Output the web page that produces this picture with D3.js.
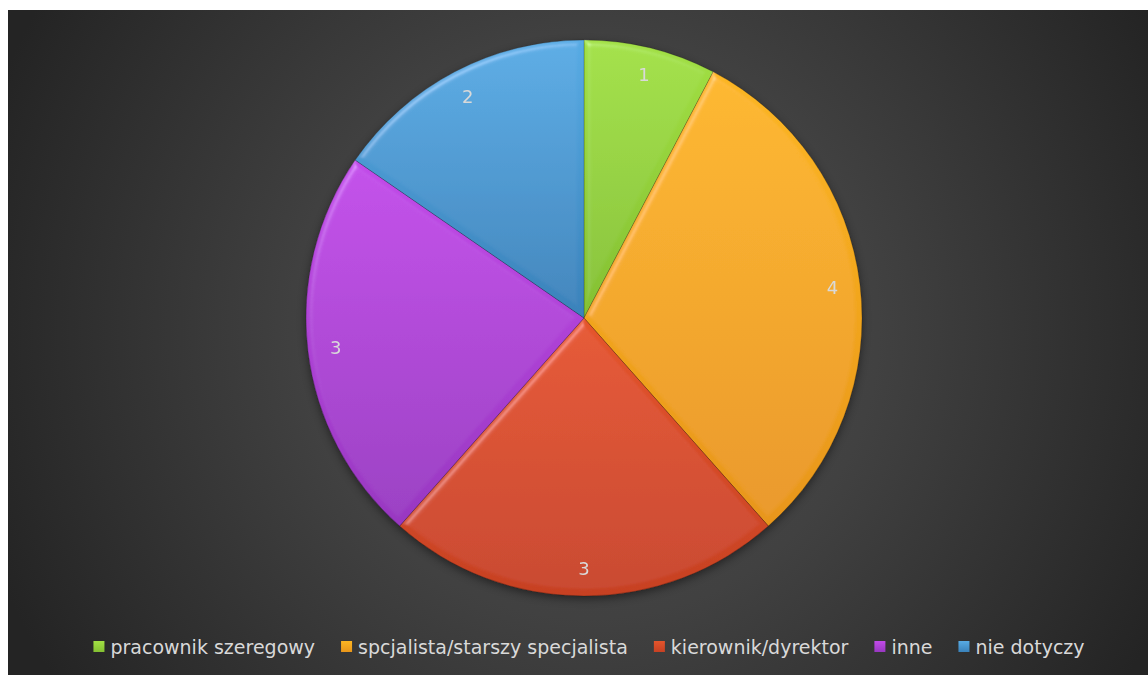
<!DOCTYPE html>
<html>
<head>
<meta charset="utf-8">
<script src="https://cdn.jsdelivr.net/npm/d3@7"></script>
<style>
  body { margin: 0; background: #fff; }
  svg { display: block; font-family: "DejaVu Sans", "Noto Sans", sans-serif; }
</style>
</head>
<body>
<div id="chart"></div>
<script>
var categories = ["pracownik szeregowy", "spcjalista/starszy specjalista", "kierownik/dyrektor", "inne", "nie dotyczy"];
var values = [1, 4, 3, 3, 2];
var colorsLight = ["#a2e044", "#fcb623", "#e5552c", "#c24be9", "#58abe4"];
var colorsDark = ["#84c032", "#e8961a", "#c74123", "#9838c1", "#3a82ba"];

var width = 1148, height = 675;
var panel = {x: 8, y: 10, w: width - 8, h: height - 10};
var cx = 584, cy = 318, radius = 278;

var svg = d3.select("#chart").append("svg")
    .attr("width", width)
    .attr("height", height);

var defs = svg.append("defs");

var bg = defs.append("radialGradient").attr("id", "bg")
    .attr("gradientUnits", "userSpaceOnUse")
    .attr("cx", 590).attr("cy", 330).attr("r", 640);
bg.append("stop").attr("offset", "0%").attr("stop-color", "#4b4b4b");
bg.append("stop").attr("offset", "45%").attr("stop-color", "#414141");
bg.append("stop").attr("offset", "100%").attr("stop-color", "#242424");

categories.forEach(function(c, i) {
  var lg = defs.append("linearGradient").attr("id", "slice" + i)
      .attr("x1", 0).attr("y1", 0).attr("x2", 0).attr("y2", 1);
  lg.append("stop").attr("offset", "0%").attr("stop-color", colorsLight[i]);
  lg.append("stop").attr("offset", "100%").attr("stop-color", colorsDark[i]);
});

// bevel on every slice
var bevel = defs.append("filter").attr("id", "bevel")
    .attr("x", "-5%").attr("y", "-5%").attr("width", "110%").attr("height", "110%");
bevel.append("feGaussianBlur").attr("in", "SourceAlpha").attr("stdDeviation", 3).attr("result", "blur");
bevel.append("feSpecularLighting").attr("in", "blur").attr("surfaceScale", 3)
    .attr("specularConstant", 0.6).attr("specularExponent", 40)
    .attr("lighting-color", "#ffffff").attr("result", "spec")
  .append("feDistantLight").attr("azimuth", 235).attr("elevation", 50);
bevel.append("feComposite").attr("in", "spec").attr("in2", "SourceAlpha")
    .attr("operator", "in").attr("result", "specIn");
bevel.append("feComposite").attr("in", "SourceGraphic").attr("in2", "specIn")
    .attr("operator", "arithmetic").attr("k1", 0).attr("k2", 1).attr("k3", 0.3).attr("k4", 0);

var shadow = defs.append("filter").attr("id", "shadow")
    .attr("x", "-10%").attr("y", "-10%").attr("width", "120%").attr("height", "120%");
shadow.append("feDropShadow").attr("dx", 0).attr("dy", 3).attr("stdDeviation", 4)
    .attr("flood-color", "#000").attr("flood-opacity", 0.45);

svg.append("rect")
    .attr("x", panel.x).attr("y", panel.y)
    .attr("width", panel.w).attr("height", panel.h)
    .attr("fill", "url(#bg)");

var pie = d3.pie().sort(null).value(function(d) { return d; });
var arcs = pie(values);
var arc = d3.arc().innerRadius(0).outerRadius(radius);
var labelArc = d3.arc().innerRadius(radius * 0.9).outerRadius(radius * 0.9);

var g = svg.append("g")
    .attr("transform", "translate(" + cx + "," + cy + ")");

var pieG = g.append("g").attr("filter", "url(#shadow)");

pieG.selectAll(".slice")
    .data(arcs)
  .enter().append("path")
    .attr("class", "slice")
    .attr("d", arc)
    .attr("fill", function(d, i) { return "url(#slice" + i + ")"; })
    .attr("filter", "url(#bevel)")
    .attr("stroke", "rgba(0,0,0,0.2)")
    .attr("stroke-width", 1);

g.selectAll(".lbl")
    .data(arcs)
  .enter().append("text")
    .attr("class", "lbl")
    .attr("transform", function(d) { return "translate(" + labelArc.centroid(d) + ")"; })
    .attr("text-anchor", "middle")
    .attr("dy", "0.35em")
    .attr("fill", "#d9d9d9")
    .style("font-size", "18px")
    .text(function(d) { return d.value; });

// legend
var legend = svg.append("g");
var items = legend.selectAll(".item")
    .data(categories)
  .enter().append("g")
    .attr("class", "item");

items.append("rect")
    .attr("width", 11).attr("height", 11)
    .attr("y", -6)
    .attr("fill", function(d, i) { return "url(#slice" + i + ")"; });

items.append("text")
    .attr("x", 17)
    .attr("dy", "0.35em")
    .attr("fill", "#d9d9d9")
    .style("font-size", "19px")
    .text(function(d) { return d; });

var gap = 26;
var xs = [], pos = 0;
items.each(function() {
  xs.push(pos);
  pos += 17 + this.querySelector("text").getComputedTextLength() + gap;
});
var total = pos - gap;
var startX = 589 - total / 2;
items.attr("transform", function(d, i) { return "translate(" + (startX + xs[i]) + ",647)"; });
</script>
</body>
</html>
